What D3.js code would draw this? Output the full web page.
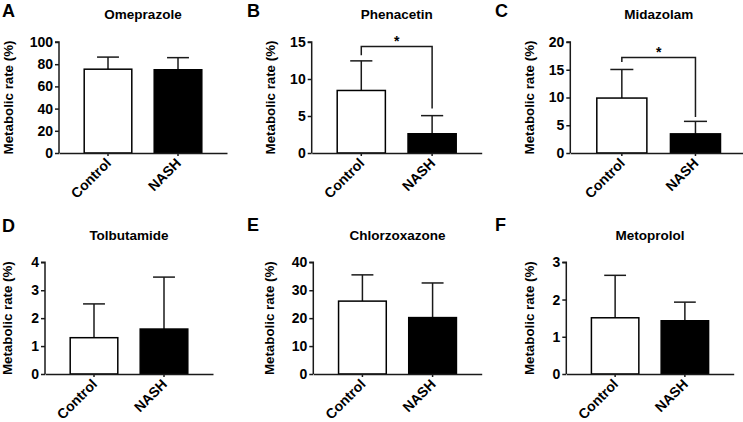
<!DOCTYPE html>
<html>
<head>
<meta charset="utf-8">
<script src="https://cdn.jsdelivr.net/npm/d3@7"></script>
<style>
  html, body { margin: 0; padding: 0; background: #fff; }
  svg { display: block; font-family: Arial, "Liberation Sans", sans-serif; }
</style>
</head>
<body>
<svg id="chart" width="743" height="422"></svg>
<script>
// ---- data ----
const groups = ["Control", "NASH"];
const panelLetters = ["A", "B", "C", "D", "E", "F"];
const drugs = ["Omeprazole", "Phenacetin", "Midazolam", "Tolbutamide", "Chlorzoxazone", "Metoprolol"];
const meanControl = [75.5, 8.45, 9.9, 1.30, 26.1, 1.51];
const meanNASH    = [75.0, 2.6, 3.45, 1.61, 20.2, 1.43];
const sdControl   = [10.9, 4.0, 5.15, 1.21, 9.4, 1.14];
const sdNASH      = [10.9, 2.45, 2.25, 1.86, 12.4, 0.50];
const yMax        = [100, 15, 20, 4, 40, 3];
const yTickStep   = [20, 5, 5, 1, 10, 1];
// significance: [bracket level, left drop end, right drop end] in data units, null if none
const sigBracket  = [null, [14.4, 13.2, 6.0], [17.2, 16.4, 6.5], null, null, null];
const yLabel = "Metabolic rate (%)";

// ---- layout (pixels) ----
const layout = [
  { x0: 59,    x1: 227,   y0: 153, y1: 42,    lx: 2,   ly: 16.5, ty: 19,    yl: 8 },
  { x0: 311.7, x1: 481.7, y0: 153, y1: 42,    lx: 247, ly: 16.5, ty: 19,    yl: 270 },
  { x0: 570.3, x1: 747,   y0: 153, y1: 42,    lx: 495, ly: 16.5, ty: 19,    yl: 529 },
  { x0: 45,    x1: 213,   y0: 374, y1: 262.3, lx: 2,   ly: 232,  ty: 239.5, yl: 7 },
  { x0: 313.3, x1: 481.7, y0: 374, y1: 262.3, lx: 247, ly: 231,  ty: 239.5, yl: 269 },
  { x0: 566.3, x1: 733.7, y0: 374, y1: 262.3, lx: 495, ly: 231,  ty: 239.5, yl: 529 }
];

const svg = d3.select("#chart");
const ink = "#1a1a1a";
const FONT = "Arial, 'Liberation Sans', sans-serif";

drugs.forEach((drug, i) => {
  const L = layout[i];
  const g = svg.append("g");
  const x = d3.scaleBand().domain(groups).range([L.x0, L.x1])
    .paddingInner(0.32).paddingOuter(0.36);
  const y = d3.scaleLinear().domain([0, yMax[i]]).range([L.y0, L.y1]);
  const means = [meanControl[i], meanNASH[i]];
  const sds = [sdControl[i], sdNASH[i]];
  const rows = groups.map((gname, k) => ({ g: gname, m: means[k], sd: sds[k] }));

  // error bars (upward only)
  const capW = x.bandwidth() * 0.46;
  rows.forEach(r => {
    const cx = x(r.g) + x.bandwidth() / 2;
    g.append("line").attr("x1", cx).attr("x2", cx)
      .attr("y1", y(r.m)).attr("y2", y(r.m + r.sd))
      .attr("stroke", ink).attr("stroke-width", 1.5);
    g.append("line").attr("x1", cx - capW / 2).attr("x2", cx + capW / 2)
      .attr("y1", y(r.m + r.sd)).attr("y2", y(r.m + r.sd))
      .attr("stroke", ink).attr("stroke-width", 1.5);
  });

  // bars
  g.selectAll("rect.bar").data(rows).join("rect")
    .attr("class", "bar")
    .attr("x", d => x(d.g))
    .attr("width", x.bandwidth())
    .attr("y", d => y(d.m))
    .attr("height", d => y(0) - y(d.m))
    .attr("fill", (d, k) => k === 0 ? "#fff" : "#000")
    .attr("stroke", "#000")
    .attr("stroke-width", 1.5);

  // y axis
  const ticks = d3.range(0, yMax[i] + 1e-9, yTickStep[i]);
  const yAxis = g.append("g").attr("transform", `translate(${L.x0},0)`)
    .call(d3.axisLeft(y).tickValues(ticks).tickSize(4).tickPadding(2).tickFormat(d3.format("d")));
  yAxis.select(".domain").attr("stroke", ink).attr("stroke-width", 1.5).attr("d", `M-4,${L.y1}H0V${L.y0}`);
  yAxis.selectAll(".tick line").attr("stroke", ink).attr("stroke-width", 1.5);
  yAxis.selectAll(".tick text").attr("fill", "#000")
    .style("font-size", "14px").style("font-weight", "bold").style("font-family", FONT);

  // x axis
  const xAxis = g.append("g").attr("transform", `translate(0,${L.y0})`)
    .call(d3.axisBottom(x).tickSize(3).tickSizeOuter(0));
  xAxis.select(".domain").attr("stroke", ink).attr("stroke-width", 1.5);
  xAxis.selectAll(".tick line").attr("stroke", ink).attr("stroke-width", 1.5);
  xAxis.selectAll(".tick text")
    .attr("fill", "#000")
    .attr("text-anchor", "end")
    .attr("x", 0).attr("y", 0).attr("dy", null)
    .attr("transform", "translate(4,11) rotate(-45)")
    .style("font-size", "14px").style("font-weight", "bold").style("font-family", FONT);

  // title
  g.append("text")
    .attr("x", (L.x0 + L.x1) / 2).attr("y", L.ty)
    .attr("text-anchor", "middle")
    .style("font-size", "13.5px").style("font-weight", "bold").style("font-family", FONT)
    .text(drug);

  // panel letter
  g.append("text")
    .attr("x", L.lx).attr("y", L.ly)
    .style("font-size", "18px").style("font-weight", "bold").style("font-family", FONT)
    .text(panelLetters[i]);

  // y label
  g.append("text")
    .attr("transform", `translate(${L.yl},${(L.y0 + L.y1) / 2}) rotate(-90)`)
    .attr("text-anchor", "middle")
    .attr("dy", "0.35em")
    .style("font-size", "13.3px").style("font-weight", "bold").style("font-family", FONT)
    .text(yLabel);

  // significance bracket
  const s = sigBracket[i];
  if (s) {
    const xa = x(groups[0]) + x.bandwidth() / 2;
    const xb = x(groups[1]) + x.bandwidth() / 2;
    g.append("path")
      .attr("d", `M${xa},${y(s[1])}V${y(s[0])}H${xb}V${y(s[2])}`)
      .attr("fill", "none").attr("stroke", ink).attr("stroke-width", 1.5);
    g.append("text")
      .attr("x", (xa + xb) / 2).attr("y", y(s[0]) - 0.5)
      .attr("text-anchor", "middle")
      .style("font-size", "14px").style("font-weight", "bold").style("font-family", FONT)
      .text("*");
  }
});
</script>
</body>
</html>
